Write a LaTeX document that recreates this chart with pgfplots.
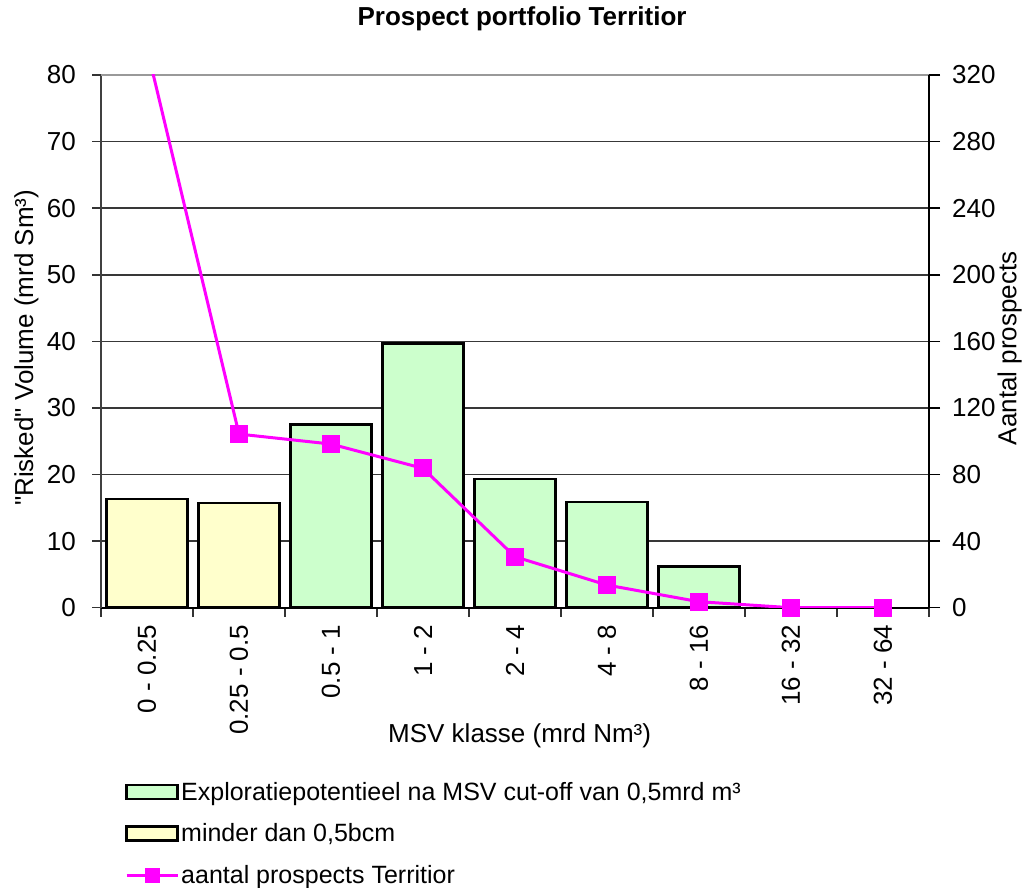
\documentclass[border=0pt]{standalone}
\usepackage{fontspec}
\setmainfont{Liberation Sans}[Ligatures=TeXOff]
\usepackage{pgfplots}
\pgfplotsset{compat=1.18}
\definecolor{bargreen}{HTML}{CCFFCC}
\definecolor{baryellow}{HTML}{FFFFCC}
\definecolor{mag}{HTML}{FF00FF}
\newcommand\fs{\fontsize{26}{31}\selectfont}
\newcommand\fl{\fontsize{25}{30}\selectfont}
\pgfplotsset{
  boxlegend/.style={legend image code/.code={\draw[##1] (0pt,-7pt) rectangle (51pt,7pt);}},
  linelegend/.style={legend image code/.code={\draw[mark repeat=2,mark phase=2,##1,mark size=6pt] plot coordinates {(0pt,0pt) (25.5pt,0pt) (51pt,0pt)};}},
}
\begin{document}
\begin{tikzpicture}
\path[use as bounding box] (0pt,0pt) rectangle (1030pt,888pt);
\begin{axis}[
  at={(101pt,280.3pt)}, anchor=south west,
  scale only axis, width=828pt, height=532.7pt,
  xmin=-0.5, xmax=8.5, ymin=0, ymax=80,
  axis x line=bottom, axis y line=left,
  axis line style={-},
  x axis line style={-, black, line width=2pt},
  y axis line style={-, black!75, line width=2pt},
  xtick={-0.5,0.5,...,8.5}, x tick label as interval,
  xticklabels={0 - 0.25,0.25 - 0.5,0.5 - 1,1 - 2,2 - 4,4 - 8,8 - 16,16 - 32,32 - 64},
  ytick={0,10,...,70}, extra y ticks={80},
  extra y tick style={grid style={black!40, line width=2pt}},
  ymajorgrids, grid style={black!78, line width=1.5pt},
  tick align=outside, major tick length=9pt,
  tick style={black!80, line width=1.5pt},
  xticklabel style={font=\fs, rotate=90, anchor=east, inner sep=0pt, xshift=-8pt},
  yticklabel style={font=\fs, anchor=east, inner sep=0pt, xshift=-16pt},
  /pgf/number format/assume math mode=true,
  xlabel={MSV klasse (mrd Nm³)},
  xlabel style={font=\fs, at={(axis description cs:0.5056,-0.2529)}, anchor=base},
  ylabel={"Risked" Volume (mrd Sm³)},
  ylabel style={font=\fs, at={(axis description cs:-0.0821,0.488)}, anchor=base},
  title={Prospect portfolio Territior},
  title style={font=\fontsize{26}{31}\selectfont\bfseries, at={(axis description cs:0.5085,1.0826)}, anchor=base},
  ybar, bar width=0.88, bar shift=0pt,
]
\addplot[fill=baryellow, draw=black, line width=2.6pt] coordinates {(0,16.3) (1,15.7)};
\addplot[fill=bargreen, draw=black, line width=2.6pt] coordinates {(2,27.5) (3,39.7) (4,19.3) (5,15.9) (6,6.15)};
\end{axis}
\begin{axis}[
  at={(101pt,280.3pt)}, anchor=south west,
  scale only axis, width=828pt, height=532.7pt,
  xmin=-0.5, xmax=8.5, ymin=0, ymax=320,
  axis x line=none, axis y line=right,
  axis line style={-},
  y axis line style={-, black, line width=2pt},
  ytick={0,40,...,320},
  tick align=outside, major tick length=11pt,
  tick style={black, line width=1.5pt},
  yticklabel style={font=\fs, anchor=west, inner sep=0pt, xshift=12pt},
  /pgf/number format/assume math mode=true,
  ylabel={Aantal prospects},
  ylabel style={font=\fs, at={(axis description cs:1.1055,0.487)}, anchor=base, rotate=0},
  legend style={at={(axis description cs:0.029,-0.3234)}, anchor=north west, draw=none, fill=none,
    font=\fl, row sep=18pt, inner sep=0pt},
  legend cell align=left,
]
\addlegendimage{boxlegend, fill=bargreen, draw=black, line width=2.6pt}
\addlegendentry{Exploratiepotentieel na MSV cut-off van 0,5mrd m³}
\addlegendimage{boxlegend, fill=baryellow, draw=black, line width=2.6pt}
\addlegendentry{minder dan 0,5bcm}
\addplot[linelegend, mag, line width=3pt, mark=square*, mark size=7.5pt, mark options={solid, fill=mag, draw=mag}]
  coordinates {(0,336) (1,104.3) (2,98.3) (3,83.7) (4,30.6) (5,13.6) (6,3.6) (7,0) (8,0)};
\addlegendentry{aantal prospects Territior}
\end{axis}
\end{tikzpicture}
\end{document}
